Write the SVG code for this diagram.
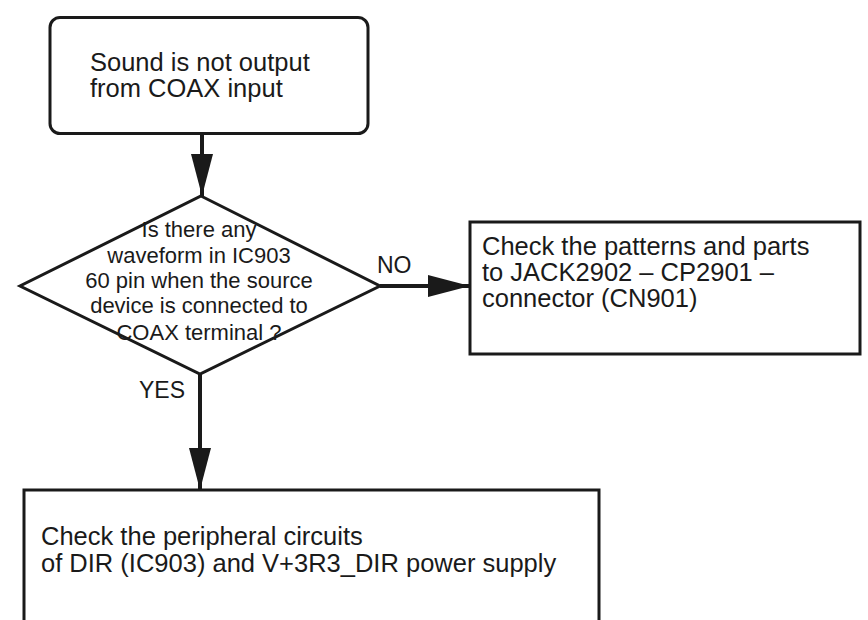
<svg xmlns="http://www.w3.org/2000/svg" width="868" height="620" viewBox="0 0 868 620">
  <defs>
    <style>
      .box { fill: #ffffff; stroke: #1a1a1a; stroke-width: 3; }
      .edge { fill: none; stroke: #1a1a1a; stroke-width: 4; }
      .t { font-family: "Liberation Sans", Arial, sans-serif; fill: #1a1a1a; }
      .big { font-size: 25.5px; }
      .dia { font-size: 22px; }
      .lbl { font-size: 23px; }
    </style>
    <marker id="arrow" markerUnits="userSpaceOnUse" markerWidth="42" markerHeight="22" refX="42" refY="11" orient="auto">
      <path d="M0,0 L42,11 L0,22 z" fill="#1a1a1a"/>
    </marker>
  </defs>
  <rect width="868" height="620" fill="#ffffff"/>

  <g id="connectors">
    <line class="edge" x1="202" y1="134" x2="202" y2="196" marker-end="url(#arrow)"/>
    <line class="edge" x1="380" y1="286" x2="470" y2="286" marker-end="url(#arrow)"/>
    <line class="edge" x1="200" y1="374" x2="200" y2="490" marker-end="url(#arrow)"/>
    <text class="t lbl" x="377" y="273">NO</text>
    <text class="t lbl" x="139" y="398">YES</text>
  </g>

  <g id="start">
    <rect class="box" x="50" y="17.5" width="318" height="116" rx="10" ry="10"/>
    <text class="t big" x="90" y="71">Sound is not output</text>
    <text class="t big" x="90" y="97">from COAX input</text>
  </g>

  <g id="decision">
    <polygon class="box" points="201,196 380,286 200,374 20,286"/>
    <text class="t dia" text-anchor="middle" x="199" y="237">Is there any</text>
    <text class="t dia" text-anchor="middle" x="199" y="263">waveform in IC903</text>
    <text class="t dia" text-anchor="middle" x="199" y="288">60 pin when the source</text>
    <text class="t dia" text-anchor="middle" x="199" y="313">device is connected to</text>
    <text class="t dia" text-anchor="middle" x="199" y="340">COAX terminal ?</text>
  </g>

  <g id="check-patterns">
    <rect class="box" x="470" y="222" width="390" height="132"/>
    <text class="t big" x="482" y="255">Check the patterns and parts</text>
    <text class="t big" x="482" y="281">to JACK2902 – CP2901 –</text>
    <text class="t big" x="482" y="307">connector (CN901)</text>
  </g>

  <g id="check-peripheral">
    <rect class="box" x="24" y="490" width="575" height="140"/>
    <text class="t big" x="41" y="545">Check the peripheral circuits</text>
    <text class="t big" x="41" y="572">of DIR (IC903) and V+3R3_DIR power supply</text>
  </g>
</svg>
